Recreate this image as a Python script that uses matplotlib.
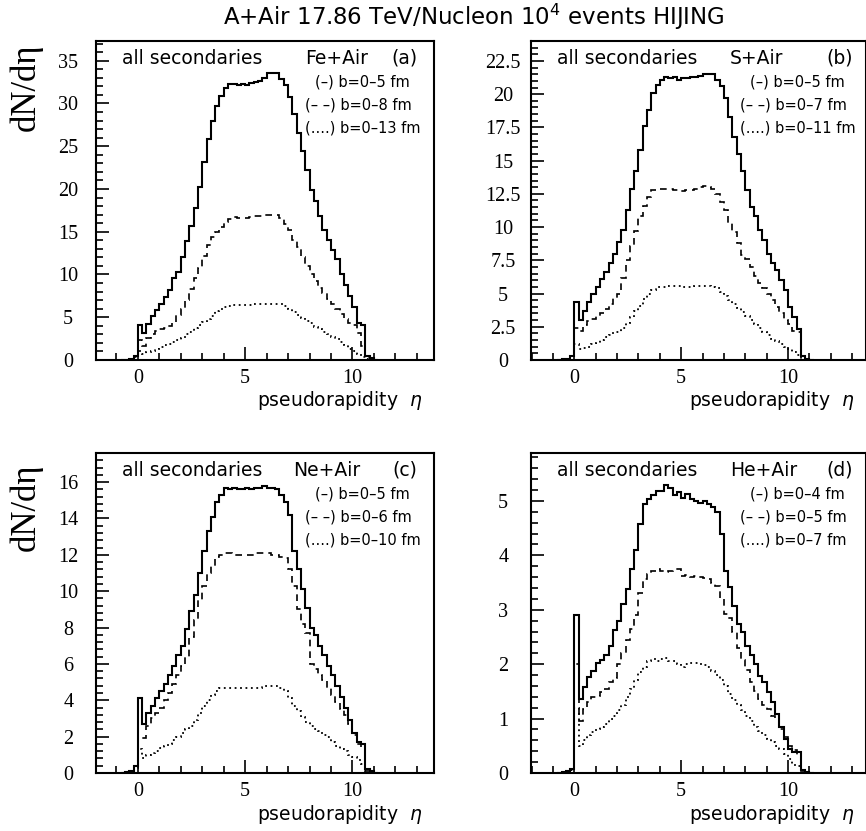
import numpy as np
import matplotlib
matplotlib.use("Agg")
import matplotlib.pyplot as plt
from matplotlib.ticker import MultipleLocator, FixedLocator

# ---------------- data (dN/deta per 0.2-wide eta bin, first bin starts at -0.8) ----------------
bin_start = -0.8
bin_width = 0.2

fe_solid = [0.0, 0.05, 0.1, 0.5,
            4.1, 3.1, 4.2, 5.1, 5.9, 6.6, 7.4, 8.2, 9.6, 10.3, 12.0, 13.9, 15.7, 17.8, 20.2, 23.1,
            25.8, 27.9, 29.7, 30.9, 31.8, 32.3, 32.3, 32.2, 32.3, 32.2, 32.4, 32.5, 32.6, 33.0,
            33.5, 33.6, 33.6, 32.8, 32.2, 30.7, 28.8, 26.6, 24.4, 22.2, 19.9, 18.6, 16.8, 15.2,
            14.0, 12.9, 11.8, 10.0, 8.8, 7.5, 6.2, 4.3, 4.1, 0.5, 0.2, 0.05]
fe_dash = [0.0, 0.0, 0.05, 0.3,
           2.3, 1.6, 2.6, 3.0, 3.4, 3.6, 3.8, 4.0, 4.3, 5.3, 6.0, 7.0, 8.3, 9.6, 10.8, 12.2,
           13.5, 14.4, 15.0, 15.6, 16.1, 16.5, 16.7, 16.6, 16.6, 16.6, 16.7, 16.8, 16.8, 16.9,
           17.0, 17.0, 16.9, 16.6, 15.9, 15.2, 14.0, 13.2, 12.0, 11.0, 10.0, 9.2, 8.4, 7.8,
           7.1, 6.6, 6.0, 5.4, 4.8, 4.3, 4.1, 3.1, 1.6, 0.3, 0.1, 0.0]
fe_dot = [0.0, 0.0, 0.02, 0.5,
          1.0, 0.7, 0.9, 1.1, 1.3, 1.5, 1.7, 1.9, 2.1, 2.3, 2.6, 3.0, 3.3, 3.7, 4.1, 4.5,
          4.8, 5.2, 5.7, 6.0, 6.2, 6.3, 6.4, 6.4, 6.4, 6.4, 6.4, 6.5, 6.5, 6.5,
          6.6, 6.6, 6.6, 6.5, 6.3, 6.0, 5.6, 5.3, 4.9, 4.6, 4.3, 3.9, 3.6, 3.3,
          3.0, 2.7, 2.4, 2.1, 1.7, 1.3, 1.0, 0.7, 0.4, 0.1, 0.02, 0.0]

s_solid = [0.0, 0.05, 0.1, 0.3,
           4.4, 3.0, 3.7, 4.4, 5.0, 5.5, 6.1, 6.6, 7.3, 8.0, 8.9, 9.8, 11.3, 12.9, 14.2, 15.8,
           17.6, 18.8, 20.1, 20.7, 21.1, 21.3, 21.2, 21.3, 21.1, 21.2, 21.2, 21.3, 21.3, 21.4,
           21.5, 21.5, 21.5, 21.1, 20.6, 19.7, 18.3, 16.8, 15.5, 14.2, 12.8, 11.5, 10.8, 9.8,
           9.0, 8.0, 7.3, 6.8, 6.0, 5.3, 4.0, 3.2, 2.3, 0.3, 0.1, 0.0]
s_dash = [0.0, 0.0, 0.05, 0.3,
          2.4, 2.2, 2.6, 2.9, 3.1, 3.3, 3.5, 3.8, 4.2, 4.7, 5.0, 6.2, 7.5, 8.6, 9.7, 10.8,
          11.6, 12.3, 12.8, 12.9, 12.9, 12.9, 12.9, 12.8, 12.8, 12.7, 12.8, 12.8, 12.9, 13.0,
          13.1, 13.0, 12.9, 12.5, 11.9, 11.3, 10.3, 9.6, 8.8, 7.9, 7.6, 7.0, 6.3, 5.8,
          5.4, 5.0, 4.5, 4.0, 3.5, 3.0, 2.7, 2.2, 2.1, 0.3, 0.1, 0.0]
s_dot = [0.0, 0.0, 0.02, 0.3,
         1.2, 0.8, 0.9, 1.0, 1.2, 1.3, 1.5, 1.7, 1.9, 2.1, 2.1, 2.4, 2.8, 3.2, 3.7, 4.1,
         4.6, 5.0, 5.3, 5.5, 5.5, 5.5, 5.6, 5.6, 5.6, 5.5, 5.5, 5.5, 5.6, 5.6,
         5.6, 5.6, 5.5, 5.4, 5.1, 4.8, 4.5, 4.2, 3.9, 3.6, 3.3, 3.0, 2.7, 2.4,
         2.1, 1.9, 1.6, 1.4, 1.2, 1.0, 0.8, 0.6, 0.4, 0.1, 0.02, 0.0]

ne_solid = [0.0, 0.05, 0.1, 0.4,
            4.1, 2.7, 3.3, 3.7, 4.1, 4.5, 4.9, 5.4, 5.9, 6.5, 7.0, 7.9, 8.9, 9.8, 11.0, 12.2,
            13.3, 14.1, 14.9, 15.3, 15.7, 15.6, 15.7, 15.6, 15.6, 15.7, 15.6, 15.7, 15.7, 15.8,
            15.7, 15.7, 15.6, 15.3, 14.9, 14.2, 12.2, 11.2, 10.1, 9.1, 8.0, 7.6, 7.0, 6.5,
            5.9, 5.4, 4.8, 4.2, 3.6, 2.9, 2.2, 1.7, 1.6, 0.2, 0.1, 0.0]
ne_dash = [0.0, 0.0, 0.05, 0.3,
           2.0, 1.9, 2.6, 3.0, 3.3, 3.6, 4.0, 4.4, 4.9, 5.4, 5.9, 6.4, 7.5, 8.4, 9.5, 10.3,
           11.0, 11.4, 11.9, 12.0, 12.1, 12.1, 12.0, 12.0, 12.0, 12.0, 12.0, 12.1, 12.1, 12.1,
           12.1, 12.0, 12.0, 11.9, 11.8, 11.2, 10.3, 9.0, 8.2, 7.7, 6.0, 5.7, 5.4, 5.1,
           4.7, 4.3, 3.9, 3.5, 3.2, 2.7, 2.1, 1.6, 1.4, 0.1, 0.0, 0.0]
ne_dot = [0.0, 0.0, 0.02, 0.3,
          1.3, 0.8, 1.0, 1.1, 1.2, 1.4, 1.5, 1.6, 1.8, 2.0, 2.2, 2.4, 2.6, 2.9, 3.3, 3.7,
          4.0, 4.3, 4.5, 4.7, 4.7, 4.7, 4.7, 4.7, 4.7, 4.7, 4.7, 4.7, 4.7, 4.8,
          4.8, 4.8, 4.8, 4.7, 4.5, 4.1, 3.7, 3.4, 3.1, 2.8, 2.6, 2.4, 2.3, 2.1,
          2.0, 1.7, 1.5, 1.3, 1.2, 1.0, 0.9, 0.7, 0.5, 0.1, 0.0, 0.0]

he_solid = [0.0, 0.01, 0.03, 0.08,
            2.9, 1.36, 1.58, 1.76, 1.88, 2.02, 2.07, 2.17, 2.34, 2.62, 2.8, 3.1, 3.38, 3.75, 4.1, 4.57,
            4.94, 5.03, 5.1, 5.18, 5.18, 5.29, 5.24, 5.1, 5.16, 5.06, 5.12, 5.03, 5.0, 4.96,
            5.0, 4.94, 4.88, 4.79, 4.39, 3.72, 3.41, 3.07, 2.74, 2.59, 2.34, 2.16, 2.0, 1.79,
            1.67, 1.49, 1.3, 1.09, 0.84, 0.63, 0.45, 0.39, 0.38, 0.05, 0.02, 0.0]
he_dash = [0.0, 0.0, 0.02, 0.06,
           2.0, 0.95, 1.18, 1.3, 1.4, 1.42, 1.49, 1.55, 1.67, 1.75, 2.0, 2.2, 2.45, 2.65, 2.9, 3.3,
           3.56, 3.65, 3.72, 3.75, 3.72, 3.7, 3.72, 3.75, 3.75, 3.62, 3.63, 3.6, 3.62, 3.6,
           3.58, 3.56, 3.5, 3.44, 3.2, 2.92, 2.85, 2.6, 2.3, 2.07, 1.9, 1.67, 1.5, 1.36,
           1.25, 1.18, 1.05, 0.97, 0.8, 0.66, 0.5, 0.42, 0.33, 0.03, 0.0, 0.0]
he_dot = [0.0, 0.0, 0.01, 0.05,
          1.2, 0.5, 0.6, 0.7, 0.75, 0.8, 0.85, 0.9, 1.0, 1.05, 1.15, 1.25, 1.4, 1.55, 1.7, 1.85,
          1.95, 2.05, 2.1, 2.05, 2.1, 2.12, 2.05, 2.05, 2.0, 1.95, 2.0, 2.02, 2.03, 2.0,
          1.98, 1.95, 1.88, 1.8, 1.7, 1.6, 1.45, 1.35, 1.25, 1.15, 1.05, 0.95, 0.85, 0.78,
          0.7, 0.63, 0.57, 0.5, 0.45, 0.35, 0.25, 0.15, 0.12, 0.02, 0.0, 0.0]

species = ["Fe+Air", "S+Air", "Ne+Air", "He+Air"]
panel_tags = ["(a)", "(b)", "(c)", "(d)"]
legend_b = [["(–) b=0–5 fm", "(– –) b=0–8 fm", "(....) b=0–13 fm"],
            ["(–) b=0–5 fm", "(– –) b=0–7 fm", "(....) b=0–11 fm"],
            ["(–) b=0–5 fm", "(– –) b=0–6 fm", "(....) b=0–10 fm"],
            ["(–) b=0–4 fm", "(– –) b=0–5 fm", "(....) b=0–7 fm"]]
ymax = [37.3, 24.0, 17.6, 5.88]
ymajor = [5, 2.5, 2, 1]
yminor = [1, 0.5, 0.4, 0.2]
ytick_labels = [["0", "5", "10", "15", "20", "25", "30", "35"],
                ["0", "2.5", "5", "7.5", "10", "12.5", "15", "17.5", "20", "22.5"],
                ["0", "2", "4", "6", "8", "10", "12", "14", "16"],
                ["0", "1", "2", "3", "4", "5"]]
xtick_vals = [0, 5, 10]
xtick_labels = ["0", "5", "10"]
title = "A+Air 17.86 TeV/Nucleon 10$^4$ events HIJING"
xlabel = "pseudorapidity  $\\eta$"
ylabel = "dN/dη"

series = [(fe_solid, fe_dash, fe_dot), (s_solid, s_dash, s_dot),
          (ne_solid, ne_dash, ne_dot), (he_solid, he_dash, he_dot)]

# ---------------- figure ----------------
W, H = 866, 831
fig = plt.figure(figsize=(W / 100, H / 100), dpi=100)

# axes rectangles in pixels: left, top, width, height
rects = [(96, 41, 338, 319), (531, 41, 335, 319),
         (96, 453, 338, 320), (531, 453, 335, 320)]
xlims = [(-1.95, 13.8), (-2.03, 13.65), (-1.95, 13.8), (-2.03, 13.65)]
species_x = [209, 199, 197, 199]
tag_right = [17, 13, 17, 13]

serif = "Liberation Serif"

for i, (l, t, w, h) in enumerate(rects):
    ax = fig.add_axes([l / W, 1 - (t + h) / H, w / W, h / H])
    solid, dash, dot = series[i]
    for vals, ls, lw in ((solid, "-", 1.5), (dash, (0, (4, 3)), 1.2), (dot, (0, (1, 2)), 1.3)):
        edges = bin_start + bin_width * np.arange(len(vals) + 1)
        ax.stairs(vals, edges, baseline=0, fill=False, color="black",
                  linewidth=lw, linestyle=ls)
    ax.set_xlim(*xlims[i])
    ax.set_ylim(0, ymax[i])
    for sp in ("top", "right", "left", "bottom"):
        ax.spines[sp].set_linewidth(1.5)
    ax.xaxis.set_major_locator(FixedLocator(xtick_vals))
    ax.xaxis.set_minor_locator(MultipleLocator(1))
    ax.set_xticks(xtick_vals, xtick_labels)
    yt = [k * ymajor[i] for k in range(len(ytick_labels[i]))]
    ax.set_yticks(yt, ytick_labels[i])
    ax.yaxis.set_minor_locator(MultipleLocator(yminor[i]))
    ax.tick_params(which="both", direction="in", top=False, right=False, width=1.2)
    ax.tick_params(which="major", length=9.5)
    ax.tick_params(which="minor", length=5)
    ax.tick_params(axis="x", which="major", pad=6.5, labelsize=14.5)
    ax.tick_params(axis="y", which="major", pad=20, labelsize=14.5)
    for lab in ax.get_xticklabels() + ax.get_yticklabels():
        lab.set_fontfamily(serif)
    for lab in ax.get_yticklabels():
        lab.set_horizontalalignment("center")

    def atext(dx, dy, s, ha="left", size=13.5):
        ax.text(dx / w, 1 - dy / h, s, transform=ax.transAxes, ha=ha, va="center",
                fontsize=size, family="DejaVu Sans")

    atext(26, 17, "all secondaries")
    atext(species_x[i], 17, species[i])
    atext(w - tag_right[i], 17, panel_tags[i], ha="right")
    atext(219, 41, legend_b[i][0], size=10.5)
    atext(209, 64, legend_b[i][1], size=10.5)
    atext(209, 87, legend_b[i][2], size=10.5)

    ax.text(1 - 11 / w, -41 / h, xlabel, transform=ax.transAxes, ha="right",
            va="center", fontsize=13.5, family="DejaVu Sans")

fig.text(474 / W, 1 - 17 / H, title, ha="center", va="center", fontsize=16.5,
         family="DejaVu Sans")
for yc in (87, 507):
    fig.text(26 / W, 1 - yc / H, ylabel, rotation=90, ha="center", va="center",
             fontsize=25, family=serif)

fig.savefig("out.png", dpi=100)
